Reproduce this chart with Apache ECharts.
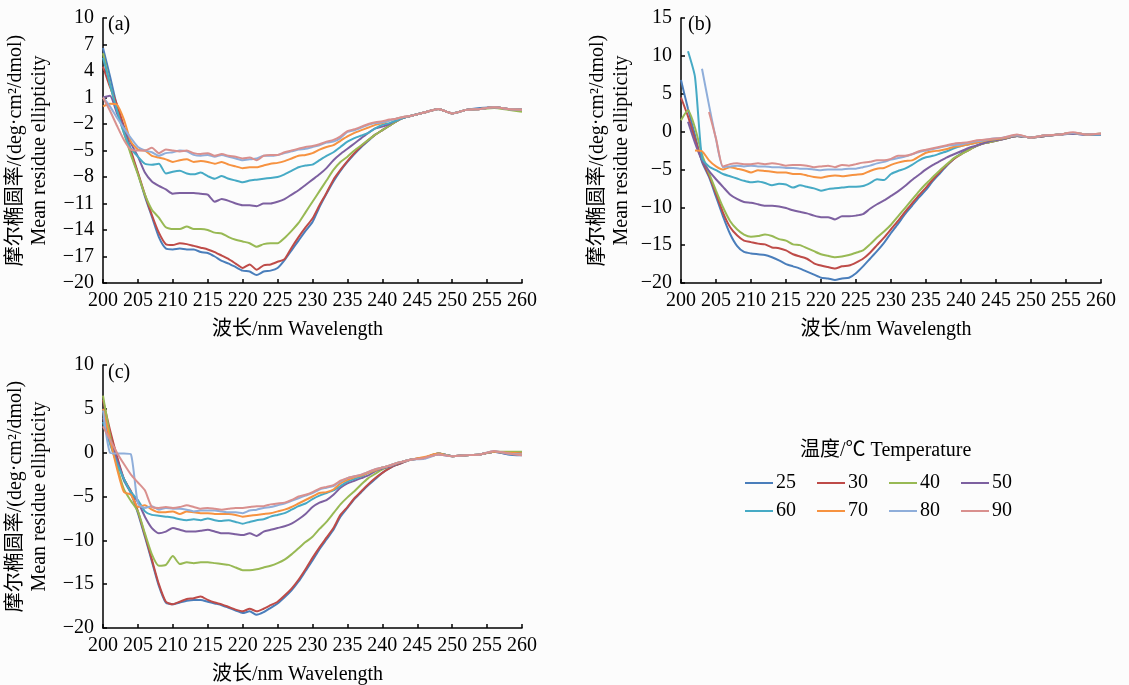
<!DOCTYPE html>
<html><head><meta charset="utf-8">
<script src="https://cdn.jsdelivr.net/npm/echarts@6/dist/echarts.min.js"></script>
<style>html,body{margin:0;padding:0;background:#fcfcfc}#c{width:1129px;height:685px}</style>
</head><body><div id="c"></div>
<script>
// wavelength (nm)
const wavelength = [200,201,202,203,204,205,206,207,208,209,210,211,212,213,214,215,216,217,218,219,
  220,221,222,223,224,225,226,227,228,229,230,231,232,233,234,235,236,237,238,239,240,241,242,243,244,
  246,248,250,252,254,256,258,260];
const seriesNames = ['25','30','40','50','60','70','80','90'];
const xTicks = [200,205,210,215,220,225,230,235,240,245,250,255,260];
const yTicksA = [-20,-17,-14,-11,-8,-5,-2,1,4,7,10];
const yTicksB = [-20,-15,-10,-5,0,5,10,15];
const yTicksC = [-20,-15,-10,-5,0,5,10];

// panel (a)
const A25 = [6.6,3.4,0.0,-2.7,-5.3,-7.6,-10.2,-12.5,-14.8,-16.1,-16.2,-16.1,-16.2,-16.2,-16.5,-16.6,-17.0,-17.5,-17.8,-18.2,
  -18.6,-18.7,-19.1,-18.7,-18.6,-18.3,-17.4,-16.3,-15.2,-14.1,-13.1,-11.4,-9.9,-8.5,-7.3,-6.3,-5.4,-4.6,-3.9,-3.2,-2.7,-2.2,-1.7,-1.3,-1.1,
  -0.7,-0.3,-0.8,-0.4,-0.2,-0.1,-0.3,-0.4];
const A30 = [4.5,2.2,0.2,-2.3,-5.0,-7.5,-10.0,-12.3,-14.3,-15.6,-15.7,-15.5,-15.6,-15.8,-16.0,-16.2,-16.5,-16.9,-17.3,-17.8,
  -18.3,-17.9,-18.5,-18.0,-17.9,-17.6,-17.3,-16.0,-14.8,-13.7,-12.7,-11.2,-9.8,-8.3,-7.2,-6.2,-5.3,-4.5,-3.8,-3.2,-2.7,-2.2,-1.7,-1.3,-1.1,
  -0.7,-0.3,-0.8,-0.4,-0.3,-0.1,-0.3,-0.4];
const A40 = [6.0,2.5,-0.5,-3.0,-5.5,-7.7,-10.0,-11.7,-12.6,-13.7,-13.9,-13.9,-13.6,-13.9,-13.9,-14.0,-14.3,-14.4,-14.8,-15.1,
  -15.3,-15.5,-15.9,-15.6,-15.5,-15.5,-14.9,-14.1,-13.2,-12.0,-10.8,-9.6,-8.4,-7.2,-6.3,-5.7,-5.0,-4.4,-3.8,-3.2,-2.7,-2.2,-1.7,-1.3,-1.1,
  -0.7,-0.3,-0.8,-0.4,-0.3,-0.2,-0.4,-0.6];
const A50 = [1.0,1.2,-0.8,-2.4,-4.2,-5.7,-7.5,-8.5,-9.0,-9.4,-9.9,-9.8,-9.8,-9.8,-9.9,-10.0,-10.8,-10.5,-10.7,-11.0,
  -11.2,-11.2,-11.3,-11.0,-11.0,-10.8,-10.5,-10.0,-9.5,-8.9,-8.3,-7.7,-7.0,-6.1,-5.4,-4.8,-4.2,-3.6,-3.0,-2.5,-2.3,-2.0,-1.6,-1.3,-1.1,
  -0.7,-0.3,-0.8,-0.4,-0.3,-0.1,-0.3,-0.4];
const A60 = [5.5,2.5,-0.5,-3.0,-4.8,-5.7,-6.5,-6.6,-6.5,-7.6,-7.4,-7.3,-7.6,-7.7,-7.5,-7.9,-8.2,-7.9,-8.2,-8.4,
  -8.6,-8.4,-8.3,-8.2,-8.1,-8.0,-7.7,-7.3,-6.9,-6.7,-6.6,-6.1,-5.6,-5.2,-4.6,-4.0,-3.6,-3.3,-3.0,-2.5,-2.1,-1.9,-1.6,-1.3,-1.1,
  -0.7,-0.3,-0.8,-0.4,-0.3,-0.1,-0.3,-0.4];
const A70 = [0.0,0.3,0.2,-1.5,-4.0,-4.9,-5.0,-5.6,-5.8,-6.0,-6.3,-6.1,-6.0,-6.3,-6.2,-6.3,-6.5,-6.3,-6.6,-6.8,
  -7.0,-6.9,-6.9,-6.7,-6.5,-6.4,-6.2,-5.9,-5.6,-5.5,-5.3,-4.9,-4.6,-4.4,-3.9,-3.4,-3.0,-2.7,-2.4,-2.1,-1.9,-1.6,-1.4,-1.2,-1.1,
  -0.7,-0.3,-0.8,-0.4,-0.3,-0.1,-0.3,-0.4];
const A80 = [1.0,0.0,-1.3,-2.5,-3.6,-4.6,-5.0,-5.2,-5.6,-5.3,-5.2,-5.0,-5.1,-5.5,-5.6,-5.5,-5.7,-5.5,-5.7,-5.9,
  -6.1,-6.0,-5.9,-5.6,-5.6,-5.5,-5.3,-5.1,-4.9,-4.8,-4.6,-4.4,-4.1,-4.0,-3.6,-2.9,-2.7,-2.4,-2.1,-1.9,-1.8,-1.6,-1.4,-1.2,-1.1,
  -0.7,-0.3,-0.8,-0.4,-0.3,-0.1,-0.3,-0.4];
const A90 = [1.0,-0.5,-2.2,-3.8,-4.9,-5.0,-5.0,-4.7,-5.3,-4.9,-5.0,-5.1,-5.0,-5.3,-5.4,-5.3,-5.6,-5.4,-5.6,-5.7,
  -5.9,-5.8,-6.1,-5.6,-5.5,-5.5,-5.2,-5.0,-4.8,-4.6,-4.5,-4.3,-4.0,-3.8,-3.4,-2.8,-2.6,-2.3,-2.0,-1.8,-1.7,-1.5,-1.4,-1.2,-1.1,
  -0.7,-0.3,-0.8,-0.4,-0.3,-0.1,-0.3,-0.4];

// panel (b)
const B25 = [6.8,3.0,-0.5,-4.0,-6.0,-8.6,-11.2,-13.5,-15.1,-15.9,-16.1,-16.2,-16.3,-16.6,-17.0,-17.5,-17.8,-18.1,-18.5,-18.9,
  -19.3,-19.4,-19.6,-19.4,-19.3,-18.7,-17.8,-16.8,-15.8,-14.7,-13.4,-12.2,-10.9,-9.8,-8.7,-7.7,-6.5,-5.5,-4.5,-3.6,-2.9,-2.4,-2.0,-1.6,-1.4,
  -1.0,-0.6,-0.8,-0.6,-0.4,-0.3,-0.4,-0.4];
const B30 = [4.5,2.0,-1.0,-3.8,-5.8,-8.2,-10.7,-12.6,-13.7,-14.4,-14.6,-14.8,-14.9,-15.3,-15.4,-15.7,-16.2,-16.5,-16.8,-17.4,
  -17.7,-17.9,-18.1,-17.8,-17.7,-17.3,-16.8,-16.0,-15.0,-14.0,-12.9,-11.8,-10.6,-9.5,-8.4,-7.4,-6.3,-5.3,-4.4,-3.6,-3.0,-2.5,-2.0,-1.6,-1.4,
  -1.0,-0.6,-0.8,-0.6,-0.4,-0.2,-0.4,-0.3];
const B40 = [1.5,2.8,0.5,-3.0,-5.5,-7.8,-10.0,-11.8,-12.9,-13.6,-13.9,-13.8,-13.6,-13.8,-14.2,-14.4,-14.9,-15.0,-15.4,-15.8,
  -16.2,-16.4,-16.6,-16.5,-16.3,-16.0,-15.7,-14.9,-14.0,-13.2,-12.3,-11.2,-10.1,-9.0,-7.9,-6.9,-6.0,-5.1,-4.3,-3.5,-3.0,-2.5,-2.0,-1.6,-1.4,
  -1.0,-0.6,-0.8,-0.6,-0.4,-0.2,-0.4,-0.3];
const B50 = [null,1.3,-1.5,-3.8,-5.2,-6.3,-7.3,-8.3,-8.9,-9.3,-9.4,-9.6,-9.8,-9.8,-9.9,-10.1,-10.4,-10.6,-10.8,-11.1,
  -11.3,-11.3,-11.6,-11.2,-11.2,-11.1,-10.9,-10.2,-9.6,-9.1,-8.5,-7.9,-7.2,-6.4,-5.7,-5.0,-4.4,-3.9,-3.4,-3.0,-2.6,-2.2,-1.9,-1.6,-1.3,
  -1.0,-0.6,-0.8,-0.6,-0.4,-0.3,-0.4,-0.4];
const B60 = [null,10.6,7.2,-3.5,-4.6,-5.1,-5.6,-5.9,-6.2,-6.5,-6.7,-6.6,-6.8,-7.1,-6.9,-7.0,-7.4,-7.1,-7.3,-7.5,
  -7.8,-7.6,-7.5,-7.4,-7.3,-7.3,-7.2,-6.8,-6.3,-6.4,-5.6,-5.2,-4.9,-4.4,-3.8,-3.4,-3.2,-2.9,-2.6,-2.2,-1.9,-1.7,-1.5,-1.3,-1.1,
  -0.9,-0.5,-0.8,-0.5,-0.4,-0.2,-0.4,-0.4];
const B70 = [null,null,-2.5,-2.6,-3.8,-4.6,-5.0,-4.7,-4.9,-5.1,-5.4,-5.1,-5.2,-5.3,-5.4,-5.4,-5.6,-5.6,-5.8,-6.0,
  -6.1,-5.9,-5.8,-5.9,-5.8,-5.7,-5.6,-5.2,-4.9,-4.8,-4.4,-4.1,-3.9,-3.8,-3.3,-2.8,-2.6,-2.5,-2.3,-2.0,-1.9,-1.7,-1.5,-1.3,-1.1,
  -0.9,-0.5,-0.8,-0.5,-0.4,-0.2,-0.4,-0.3];
const B80 = [null,null,null,8.3,3.5,-1.0,-4.7,-4.6,-4.5,-4.6,-4.5,-4.6,-4.6,-4.7,-4.7,-4.8,-4.8,-4.9,-4.9,-5.0,
  -5.1,-5.0,-5.0,-5.0,-4.9,-4.9,-4.7,-4.5,-4.2,-4.0,-3.7,-3.5,-3.3,-3.0,-2.7,-2.5,-2.3,-2.1,-1.9,-1.8,-1.7,-1.5,-1.3,-1.2,-1.0,
  -0.8,-0.5,-0.8,-0.5,-0.4,-0.2,-0.4,-0.3];
const B90 = [null,null,null,null,2.6,-0.9,-4.6,-4.3,-4.2,-4.3,-4.3,-4.2,-4.3,-4.2,-4.3,-4.5,-4.4,-4.4,-4.5,-4.7,
  -4.6,-4.5,-4.7,-4.4,-4.5,-4.3,-4.1,-4.0,-3.8,-3.8,-3.6,-3.2,-3.2,-3.0,-2.6,-2.4,-2.2,-2.0,-1.8,-1.6,-1.5,-1.4,-1.2,-1.1,-1.0,
  -0.8,-0.4,-0.8,-0.5,-0.4,-0.1,-0.4,-0.3];

// panel (c)
const C25 = [5.0,2.3,-0.6,-3.2,-4.6,-6.9,-9.6,-12.4,-15.2,-17.1,-17.3,-17.1,-16.9,-16.8,-16.8,-17.0,-17.2,-17.4,-17.7,-18.0,
  -18.3,-18.1,-18.5,-18.2,-17.7,-17.2,-16.5,-15.7,-14.7,-13.5,-12.3,-11.0,-9.9,-8.8,-7.3,-6.3,-5.3,-4.5,-3.7,-3.0,-2.3,-1.8,-1.4,-1.1,-0.8,
  -0.6,-0.1,-0.4,-0.3,-0.2,0.1,-0.2,-0.3];
const C30 = [6.0,2.6,-0.4,-3.0,-4.4,-6.7,-9.4,-12.2,-15.0,-17.0,-17.3,-17.0,-16.7,-16.6,-16.4,-16.8,-17.1,-17.3,-17.6,-17.9,
  -18.1,-17.8,-18.1,-17.8,-17.4,-17.0,-16.3,-15.5,-14.5,-13.3,-12.0,-10.8,-9.7,-8.6,-7.1,-6.2,-5.2,-4.4,-3.6,-2.9,-2.3,-1.8,-1.4,-1.1,-0.8,
  -0.6,-0.1,-0.4,-0.3,-0.2,0.1,0.0,-0.1];
const C40 = [6.5,2.0,-1.5,-4.2,-5.5,-6.7,-9.2,-11.6,-12.9,-12.8,-11.8,-12.7,-12.5,-12.6,-12.5,-12.5,-12.6,-12.7,-12.8,-13.1,
  -13.4,-13.4,-13.3,-13.1,-12.9,-12.6,-12.2,-11.6,-10.9,-10.2,-9.6,-8.7,-7.9,-6.9,-5.9,-5.1,-4.4,-3.6,-2.9,-2.4,-1.9,-1.6,-1.3,-1.0,-0.8,
  -0.6,-0.1,-0.4,-0.3,-0.2,0.1,0.1,0.1];
const C50 = [4.0,1.5,-0.8,-3.0,-4.5,-5.6,-7.3,-8.6,-9.2,-9.0,-8.6,-8.8,-9.0,-9.0,-8.9,-8.8,-9.0,-9.2,-9.2,-9.3,
  -9.4,-9.2,-9.5,-9.0,-8.8,-8.6,-8.4,-8.1,-7.6,-7.0,-6.2,-5.7,-5.4,-4.8,-4.0,-3.5,-3.2,-2.9,-2.6,-2.1,-1.8,-1.6,-1.3,-1.0,-0.8,
  -0.6,-0.2,-0.4,-0.3,-0.2,0.1,-0.1,-0.1];
const C60 = [3.5,1.0,-1.2,-3.0,-4.5,-5.4,-6.7,-7.1,-7.2,-7.3,-7.4,-7.6,-7.7,-7.6,-7.7,-7.5,-7.7,-7.8,-7.7,-7.9,
  -8.1,-7.9,-7.7,-7.6,-7.3,-7.1,-6.9,-6.5,-6.1,-5.8,-5.3,-4.9,-4.6,-4.3,-3.8,-3.3,-3.0,-2.7,-2.3,-2.0,-1.7,-1.5,-1.2,-1.0,-0.8,
  -0.6,-0.1,-0.4,-0.3,-0.2,0.1,-0.1,-0.2];
const C70 = [5.0,1.5,-1.8,-4.5,-4.8,-6.2,-6.0,-6.5,-6.8,-6.8,-6.7,-7.0,-6.7,-6.8,-6.9,-6.9,-7.0,-7.0,-7.0,-7.1,
  -7.3,-7.2,-7.1,-7.0,-6.9,-6.7,-6.5,-6.2,-5.8,-5.4,-5.0,-4.6,-4.5,-4.2,-3.5,-3.1,-2.8,-2.6,-2.3,-2.0,-1.7,-1.5,-1.2,-1.0,-0.8,
  -0.5,-0.1,-0.4,-0.3,-0.2,0.1,0.0,-0.1];
const C80 = [4.8,0.0,-0.1,-0.1,-0.2,-5.8,-6.3,-6.1,-6.5,-6.3,-6.4,-6.4,-6.5,-6.7,-6.6,-6.6,-6.6,-6.7,-6.8,-6.8,
  -6.9,-6.6,-6.5,-6.3,-6.2,-6.0,-5.8,-5.5,-5.2,-4.9,-4.6,-4.2,-4.0,-3.8,-3.3,-2.9,-2.7,-2.5,-2.2,-1.9,-1.7,-1.5,-1.2,-1.0,-0.8,
  -0.7,-0.2,-0.4,-0.3,-0.2,0.2,-0.1,-0.2];
const C90 = [3.0,1.5,0.0,-1.3,-2.5,-3.4,-4.3,-6.2,-6.3,-6.2,-6.3,-6.2,-6.0,-6.2,-6.4,-6.3,-6.4,-6.5,-6.4,-6.3,
  -6.3,-6.2,-6.1,-6.1,-5.9,-5.8,-5.7,-5.4,-5.0,-4.8,-4.5,-4.1,-3.9,-3.7,-3.2,-2.9,-2.7,-2.5,-2.2,-1.9,-1.7,-1.5,-1.2,-1.0,-0.8,
  -0.6,-0.2,-0.4,-0.3,-0.2,0.2,-0.1,-0.3];

const panelA = [A25,A30,A40,A50,A60,A70,A80,A90];
const panelB = [B25,B30,B40,B50,B60,B70,B80,B90];
const panelC = [C25,C30,C40,C50,C60,C70,C80,C90];

const colors = ['#4A7EBB','#BE4B48','#98B954','#7D60A0','#46AAC5','#F69240','#8FAEDA','#D9908E'];
const FONT = '"Liberation Serif", "Noto Sans CJK SC", serif';
const BLACK = '#000';

function xAxis(i, pad) {
  return {
    gridIndex: i, type: 'value', min: 200, max: 260, interval: 5,
    axisLine: {onZero: false, lineStyle: {color: BLACK, width: 1.5}},
    axisTick: {inside: true, length: 4, lineStyle: {color: BLACK, width: 1.5}},
    axisLabel: {color: BLACK, fontSize: 20, fontFamily: FONT, margin: 8, customValues: xTicks},
    splitLine: {show: false},
    name: '波长/nm Wavelength', nameLocation: 'middle', nameGap: 37,
    nameTextStyle: {color: BLACK, fontSize: 20, fontFamily: FONT, padding: [0, pad, 0, 0]}
  };
}
function yAxis(i, min, max, ticks, gap) {
  return {
    gridIndex: i, type: 'value', min: min, max: max,
    axisLine: {show: true, onZero: false, lineStyle: {color: BLACK, width: 1.5}},
    axisTick: {show: true, inside: true, length: 4, lineStyle: {color: BLACK, width: 1.5}, customValues: ticks},
    axisLabel: {color: BLACK, fontSize: 20, fontFamily: FONT, margin: 9, customValues: ticks,
      formatter: v => String(v).replace('-', '\u2212')},
    splitLine: {show: false},
    name: '摩尔椭圆率/(deg·cm²/dmol)\nMean residue ellipticity',
    nameLocation: 'middle', nameRotate: 90, nameGap: gap,
    nameTextStyle: {color: BLACK, fontSize: 20, fontFamily: FONT, lineHeight: 24}
  };
}
const series = [];
[panelA, panelB, panelC].forEach((panel, p) => {
  panel.forEach((vals, k) => {
    series.push({
      name: seriesNames[k], type: 'line', xAxisIndex: p, yAxisIndex: p,
      data: wavelength.map((w, j) => [w, vals[j]]),
      showSymbol: false, symbol: 'none', smooth: 0.2,
      lineStyle: {width: 2, color: colors[k]}, itemStyle: {color: colors[k]},
      emphasis: {disabled: true}
    });
  });
});
const titleStyle = {fontSize: 20, fontWeight: 'normal', fontFamily: FONT, color: BLACK};
const legendBase = {
  orient: 'horizontal', left: 745, itemWidth: 28, itemHeight: 2, itemGap: 21, icon: 'rect',
  padding: 0, selectedMode: false,
  textStyle: {fontSize: 20, fontFamily: FONT, color: BLACK, padding: [0, 0, 0, -2]}
};
const option = {
  animation: false,
  backgroundColor: '#fcfcfc',
  title: [
    {text: '(a)', left: 108, top: 15, padding: 0, textStyle: titleStyle},
    {text: '(b)', left: 688, top: 15, padding: 0, textStyle: titleStyle},
    {text: '(c)', left: 108, top: 363, padding: 0, textStyle: titleStyle},
    {text: '温度/℃ Temperature', left: 800, top: 441, padding: 0, textStyle: titleStyle}
  ],
  legend: [
    Object.assign({}, legendBase, {top: 473, data: ['25','30','40','50']}),
    Object.assign({}, legendBase, {top: 501, data: ['60','70','80','90']})
  ],
  grid: [
    {left: 103, top: 18, width: 419, height: 265, outerBoundsMode: 'none'},
    {left: 681, top: 18, width: 420, height: 265, outerBoundsMode: 'none'},
    {left: 103, top: 365, width: 419, height: 263, outerBoundsMode: 'none'}
  ],
  xAxis: [xAxis(0, 30), xAxis(1, 10), xAxis(2, 30)],
  yAxis: [yAxis(0, -20, 10, yTicksA, 51), yAxis(1, -20, 15, yTicksB, 47), yAxis(2, -20, 10, yTicksC, 51)],
  series: series
};
const chart = echarts.init(document.getElementById('c'), null, {renderer: 'canvas'});
chart.setOption(option);
</script>
</body></html>
